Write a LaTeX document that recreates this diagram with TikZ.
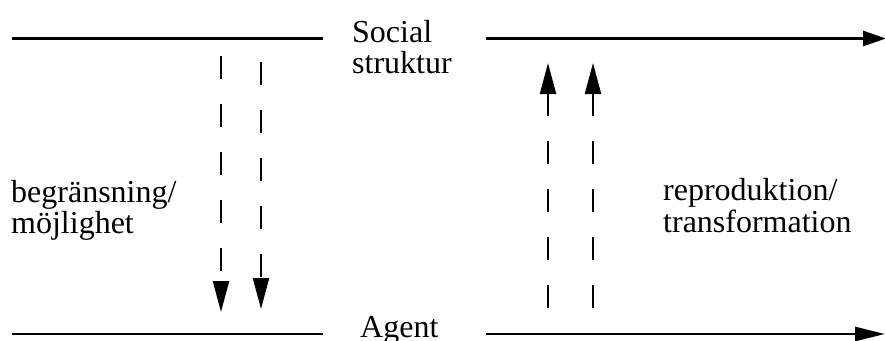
\documentclass[tikz,border=0pt]{standalone}
\usepackage{fontspec}
\setmainfont{Liberation Serif}
\usetikzlibrary{arrows.meta}
\tikzset{
  lbl/.style={anchor=base west, inner sep=0pt, font=\fontsize{32}{31}\selectfont},
  hline/.style={line width=2.7pt},
  flow/.style={line width=2.2pt, dash pattern=on 23pt off 25pt, -{Triangle[length=31pt,width=16pt]}}
}
\begin{document}
\begin{tikzpicture}[x=1pt,y=-1pt]
\useasboundingbox (0,0) rectangle (885,340);
% labels
\node[lbl] (social) at (352,42) {Social};
\node[lbl] (struktur) at (352,73) {struktur};
\node[lbl] (agent) at (360,337) {Agent};
\node[lbl] (begr) at (11,202) {begränsning/};
\node[lbl] (moj) at (11,233) {möjlighet};
\node[lbl] (repr) at (663,200) {reproduktion/};
\node[lbl] (trans) at (663,232) {transformation};
% horizontal lines
\coordinate (tl1) at (12,38.5);
\coordinate (tl2) at (323,38.5);
\coordinate (tr1) at (486,38.5);
\coordinate (tr2) at (886,38.5);
\coordinate (bl1) at (12,334);
\coordinate (bl2) at (323,334);
\coordinate (br1) at (486,334);
\coordinate (br2) at (885,334);
\draw[hline] (tl1) -- (tl2);
\draw[hline,-{Triangle[length=23pt,width=15pt]}] (tr1) -- (tr2);
\draw[hline] (bl1) -- (bl2);
\draw[hline,-{Triangle[length=30pt,width=14pt]}] (br1) -- (br2);
% dashed arrows down
\coordinate (d1s) at (221,56);
\coordinate (d1e) at (221,312);
\coordinate (d2s) at (261,62);
\coordinate (d2e) at (261,309);
\draw[flow] (d1s) -- (d1e);
\draw[flow] (d2s) -- (d2e);
% dashed arrows up
\coordinate (u1s) at (548,308);
\coordinate (u1e) at (548,63);
\coordinate (u2s) at (593,308);
\coordinate (u2e) at (593,63);
\draw[flow] (u1s) -- (u1e);
\draw[flow] (u2s) -- (u2e);
\end{tikzpicture}
\end{document}
